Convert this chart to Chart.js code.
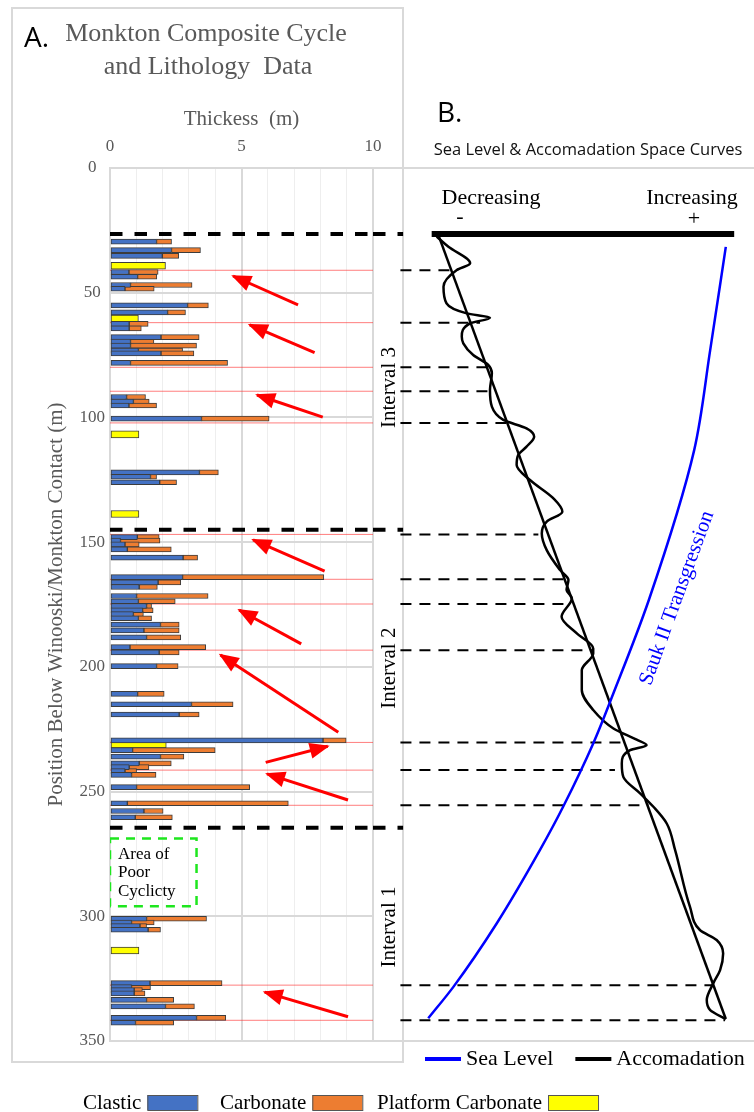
<!DOCTYPE html>
<html>
<head>
<meta charset="utf-8">
<script src="https://cdn.jsdelivr.net/npm/chart.js@4.4.1/dist/chart.umd.min.js"></script>
<style>
  html, body { margin: 0; padding: 0; background: #fff; }
  #wrap { position: relative; width: 754px; height: 1112px; }
  #wrap canvas { position: absolute; left: 0; top: 0; }
</style>
</head>
<body>
<div id="wrap">
  <canvas id="lith" width="754" height="1112"></canvas>
  <canvas id="curves" width="754" height="1112"></canvas>
</div>
<script>
// --- A. lithology beds (position below contact, m) and thickness (m)
const bedPos = [29.5, 32.9, 35.2, 41.7, 43.6, 46.9, 48.4, 55.1, 57.9, 62.5, 64.3, 67.8, 69.6, 71.2, 73.2, 74.3, 78.1, 91.8, 93.6, 95.2,
  100.5, 122.0, 123.8, 126.0, 148.0, 149.4, 150.9, 152.9, 156.2, 164.0, 166.1, 168.0, 171.6, 173.7, 175.6, 177.3, 178.8, 180.5, 183.1, 185.4,
  188.2, 192.1, 194.2, 199.7, 210.8, 215.0, 219.1, 229.5, 233.4, 236.0, 238.7, 240.2, 241.8, 243.3, 248.2, 254.7, 257.8, 260.3, 301.0, 302.5,
  303.9, 305.4, 326.8, 328.4, 329.6, 330.9, 333.5, 336.1, 340.7, 342.7];
const clastic = [1.77, 2.34, 1.99, 0.72, 1.05, 0.78, 0.57, 2.95, 2.19, 0.73, 0.73, 1.94, 0.78, 0.78, 1.08, 1.94, 0.78, 0.63, 0.89, 0.72,
  3.48, 3.40, 1.54, 1.89, 1.04, 0.40, 0.57, 0.66, 2.78, 2.76, 1.83, 1.11, 1.01, 1.08, 1.39, 1.24, 0.89, 1.08, 1.92, 1.29,
  1.39, 0.76, 1.87, 1.77, 1.05, 3.10, 2.63, 8.10, 0.86, 1.92, 1.11, 0.73, 0.57, 0.82, 1.01, 0.66, 1.29, 0.96, 1.39, 0.82,
  1.14, 1.45, 1.52, 0.82, 0.92, 0.92, 1.39, 2.11, 3.29, 0.97];
const carbonate = [0.57, 1.10, 0.62, 1.11, 0.73, 2.34, 1.11, 0.79, 0.68, 0.72, 0.46, 1.45, 0.89, 2.51, 1.68, 1.25, 3.69, 0.72, 0.60, 1.05,
  2.57, 0.72, 0.23, 0.64, 0.83, 1.50, 0.54, 1.67, 0.55, 5.37, 0.86, 0.69, 2.72, 1.40, 0.19, 0.40, 0.38, 0.50, 0.71, 1.34,
  1.30, 2.88, 0.76, 0.82, 1.01, 1.58, 0.76, 0.88, 3.14, 0.89, 1.22, 0.75, 0.44, 0.93, 4.30, 6.12, 0.73, 1.41, 2.28, 0.86,
  0.25, 0.47, 2.74, 0.72, 0.31, 0.41, 1.03, 1.10, 1.11, 1.45];
const platPos  = [39.2, 60.4, 106.8, 138.7, 231.1, 313.7];
const platform = [2.11, 1.08, 1.10, 1.10, 2.14, 1.10];

// cycle tops (red lines) and where the tie line meets the accomadation curve
const cyclePos = [41.0, 62.0, 79.9, 89.5, 102.2, 146.9, 164.9, 174.8, 193.3, 230.3, 241.4, 255.5, 327.6, 341.7];
const cycleAcc = [22.0, 28.1, 30.3, 30.7, 35.1, 43.4, 51.3, 50.8, 57.8, 66.6, 63.5, 72.3, 89.3, 92.4];

const intervalPos   = [26.5, 145, 264.5];
const intervalNames = ['Interval 3', 'Interval 2', 'Interval 1'];
const intervalMid   = [88, 200.5, 304.3];

// arrows [thickness, position]
const arrowTail = [[7.15, 54.9], [7.78, 74.0], [8.09, 99.9], [8.16, 161.6], [7.27, 190.8], [8.68, 226.2], [5.92, 238.3], [9.05, 253.4], [9.05, 340.3]];
const arrowHead = [[4.68, 43.3], [5.31, 62.9], [5.59, 91.0], [5.44, 149.1], [4.91, 177.2], [4.20, 195.2], [8.28, 231.8], [5.97, 242.9], [5.88, 330.4]];

const poorTop = 268.8, poorBottom = 296, poorWidth = 3.29;
const poorText = ['Area of', 'Poor', 'Cyclicty'];

// --- B. curves (relative units, - decreasing .. + increasing)
const seaLevelX = [92.6, 88.5, 84.3, 72.4, 63.1, 57.8, 49.9, 43.8, 32.5, 21.1, 14.5];
const seaLevelY = [31.6, 73.0, 113.1, 173.2, 210.6, 230.7, 256.1, 273.5, 302.8, 328.3, 340.9];

const accX = [16.7, 19.8, 25.5, 22.0, 18.5, 19.3, 24.6, 30.7, 25.5, 23.3, 23.7, 26.3, 30.3, 31.2, 30.7, 31.2, 34.2, 40.3, 42.3, 40.3,
  38.1, 37.7, 41.2, 47.3, 49.7, 45.6, 44.3, 45.6, 49.1, 51.3, 50.8, 52.2, 49.5, 53.5, 57.8, 57.8, 54.8, 54.8, 57.8, 63.1,
  69.2, 71.8, 67.5, 65.3, 65.7, 70.1, 73.6, 77.1, 79.3, 83.2, 85.8, 90.2, 91.9, 91.1, 89.3, 87.6, 88.5, 92.6];
const accY = [27.5, 31.6, 38.2, 40.9, 47.6, 54.3, 58.3, 60.0, 62.3, 67.6, 70.3, 75.0, 79.0, 82.3, 89.0, 95.7, 101.0, 104.4, 107.7, 111.7,
  115.1, 119.1, 125.1, 132.4, 137.8, 141.8, 146.5, 153.2, 161.2, 165.2, 169.2, 172.5, 179.9, 186.6, 192.6, 194.6, 201.3, 209.3, 217.3, 224.7,
  229.2, 231.4, 233.4, 238.7, 244.1, 250.7, 256.1, 262.8, 273.5, 296.2, 305.5, 309.5, 314.9, 321.6, 326.9, 333.6, 337.6, 341.2];
const trendX = [17.2, 92.6];
const trendY = [27.0, 341.2];
const topLineX = [15.4, 94.8];

const SERIF = '"Liberation Serif", "Times New Roman", serif';
const SANS  = '"Open Sans", "Noto Sans", sans-serif';
const GRAY  = '#595959';

function txt(ctx, s, x, y, font, color, align, base, rot) {
  ctx.save();
  ctx.translate(x, y);
  if (rot) ctx.rotate(rot);
  ctx.font = font;
  ctx.fillStyle = color;
  ctx.textAlign = align || 'left';
  ctx.textBaseline = base || 'alphabetic';
  ctx.fillText(s, 0, 0);
  ctx.restore();
}

const pts = (xs, ys) => xs.map((x, i) => ({x, y: ys[i]}));
const hline = (y, x0, x1) => [{x: x0, y}, {x: x1, y}];

// ---------- panel A
const lithDecor = {
  id: 'lithDecor',
  beforeDraw(chart) {
    const ctx = chart.ctx;
    ctx.save();
    ctx.strokeStyle = '#d9d9d9';
    ctx.lineWidth = 2;
    ctx.strokeRect(12, 8, 391, 1054);
    ctx.restore();
  },
  afterDatasetsDraw(chart) {
    const ctx = chart.ctx;
    chart.data.datasets.forEach((ds, i) => {
      if (!ds.arrow) return;
      const p = chart.getDatasetMeta(i).data;
      const a = p[0], b = p[1];
      const ang = Math.atan2(b.y - a.y, b.x - a.x);
      const L = 18, W = 8;
      const bx = b.x - L * Math.cos(ang), by = b.y - L * Math.sin(ang);
      ctx.save();
      ctx.fillStyle = ds.borderColor;
      ctx.beginPath();
      ctx.moveTo(b.x + 2 * Math.cos(ang), b.y + 2 * Math.sin(ang));
      ctx.lineTo(bx + W * Math.sin(ang), by - W * Math.cos(ang));
      ctx.lineTo(bx - W * Math.sin(ang), by + W * Math.cos(ang));
      ctx.closePath();
      ctx.fill();
      ctx.restore();
    });
  },
  afterDraw(chart) {
    const ctx = chart.ctx;
    const {x, y} = chart.scales;
    txt(ctx, 'A.', 24, 47, '28px ' + SANS, '#000');
    txt(ctx, 'Monkton Composite Cycle', 206, 41, '26px ' + SERIF, GRAY, 'center');
    txt(ctx, 'and Lithology  Data', 208, 74, '26px ' + SERIF, GRAY, 'center');

    const tx = x.getPixelForValue(0) + 8;
    const ty = y.getPixelForValue(poorTop);
    poorText.forEach((s, i) => txt(ctx, s, tx, ty + 16 + i * 18.5, '17px ' + SERIF, '#000', 'left', 'middle'));

    // legend: label then swatch
    const starts = [83, 220, 377];
    chart.data.datasets.filter(d => d.type === 'bar').forEach((d, i) => {
      ctx.font = '21px ' + SERIF;
      const w = ctx.measureText(d.label).width;
      txt(ctx, d.label, starts[i], 1109, '21px ' + SERIF, '#000');
      const bx = starts[i] + w + 6;
      ctx.save();
      ctx.fillStyle = d.backgroundColor;
      ctx.fillRect(bx, 1095, 50, 15);
      ctx.strokeStyle = '#555';
      ctx.lineWidth = 1;
      ctx.strokeRect(bx + 0.5, 1095.5, 50, 15);
      ctx.restore();
    });
  }
};

const lithSets = [
  {type: 'bar', label: 'Clastic', data: pts(clastic, bedPos), backgroundColor: '#4472c4'},
  {type: 'bar', label: 'Carbonate', data: pts(carbonate, bedPos), backgroundColor: '#ed7d31'},
  {type: 'bar', label: 'Platform Carbonate', data: pts(platform, platPos), backgroundColor: '#ffff00', barThickness: 7}
].map(d => Object.assign({borderColor: '#3c3c3c', borderWidth: 1, borderSkipped: false, barThickness: 5, order: 1}, d));

cyclePos.forEach((p, i) => lithSets.push({
  type: 'line', data: hline(p, 0, 10), borderColor: 'rgba(255,40,40,0.6)', borderWidth: 1,
  pointRadius: 0, stack: 'cyc' + i, order: 3
}));
intervalPos.forEach((p, i) => lithSets.push({
  type: 'line', data: hline(p, 0, 10), borderColor: '#000', borderWidth: 4, borderDash: [12.5, 12],
  pointRadius: 0, stack: 'int' + i, order: 3
}));
lithSets.push({
  type: 'line', data: [{x: 0, y: poorTop}, {x: poorWidth, y: poorTop}, {x: poorWidth, y: poorBottom}, {x: 0, y: poorBottom}, {x: 0, y: poorTop}],
  borderColor: '#1ee61e', borderWidth: 2.5, borderDash: [9, 7], pointRadius: 0, stack: 'poor', order: 2
});
arrowTail.forEach((t, i) => lithSets.push({
  type: 'line', arrow: true, data: [{x: t[0], y: t[1]}, {x: arrowHead[i][0], y: arrowHead[i][1]}],
  borderColor: '#ff0000', borderWidth: 3, pointRadius: 0, stack: 'arr' + i, order: 0
}));

new Chart(document.getElementById('lith'), {
  data: {datasets: lithSets},
  options: {
    responsive: false,
    animation: false,
    indexAxis: 'y',
    layout: {padding: {left: 0, right: 381, top: 0, bottom: 71}},
    plugins: {legend: {display: false}, tooltip: {enabled: false}},
    scales: {
      x: {
        type: 'linear', position: 'top', min: 0, max: 10, stacked: true, offset: false,
        ticks: {stepSize: 1, autoSkip: false, maxRotation: 0, padding: 11, color: GRAY,
          font: {family: SERIF, size: 17}, callback: v => (v % 5 === 0 ? v : '')},
        grid: {drawTicks: false, offset: false,
          color: c => (c.tick && c.tick.value % 5 === 0 ? '#d9d9d9' : '#eeeeee'),
          lineWidth: c => (c.tick && c.tick.value % 5 === 0 ? 2 : 1)},
        border: {display: true, color: '#d9d9d9', width: 2},
        title: {display: true, text: 'Thickess  (m)', color: GRAY, font: {family: SERIF, size: 21}, padding: {top: 107, bottom: 0}},
        afterFit: s => { s.height = 168; }
      },
      y: {
        type: 'linear', reverse: true, min: 0, max: 350, stacked: true, offset: false,
        ticks: {stepSize: 50, padding: 5, crossAlign: 'center', color: GRAY, font: {family: SERIF, size: 17}},
        grid: {drawTicks: false, offset: false, color: '#d9d9d9', lineWidth: 2},
        border: {display: true, color: '#d9d9d9', width: 2},
        title: {display: true, text: 'Position Below Winooski/Monkton Contact (m)', color: GRAY,
          font: {family: SERIF, size: 21}, padding: {top: 44, bottom: 0}},
        afterFit: s => { s.width = 110; }
      }
    }
  },
  plugins: [lithDecor]
});

// ---------- panel B
const curveDecor = {
  id: 'curveDecor',
  beforeDraw(chart) {
    const ctx = chart.ctx;
    const a = chart.chartArea;
    ctx.save();
    ctx.strokeStyle = '#d9d9d9';
    ctx.lineWidth = 2;
    ctx.beginPath();
    ctx.moveTo(a.left, a.top); ctx.lineTo(a.right, a.top);
    ctx.moveTo(a.left, a.bottom); ctx.lineTo(a.right, a.bottom);
    ctx.stroke();
    ctx.restore();
  },
  afterDraw(chart) {
    const ctx = chart.ctx;
    const y = chart.scales.y;
    txt(ctx, 'B.', 437, 122, '28px ' + SANS, '#000');
    txt(ctx, 'Sea Level & Accomadation Space Curves', 588, 155, '16.5px ' + SANS, '#111', 'center');
    txt(ctx, 'Decreasing', 491, 204, '22px ' + SERIF, '#000', 'center');
    txt(ctx, '-', 460, 217, '22px ' + SERIF, '#000', 'center', 'middle');
    txt(ctx, 'Increasing', 692, 204, '22px ' + SERIF, '#000', 'center');
    txt(ctx, '+', 694, 219, '22px ' + SERIF, '#000', 'center', 'middle');
    txt(ctx, 'Sauk II Transgression', 677, 598, '21px ' + SERIF, '#0000ff', 'center', 'middle', -70 * Math.PI / 180);
    intervalNames.forEach((s, i) =>
      txt(ctx, s, 389, y.getPixelForValue(intervalMid[i]), '21px ' + SERIF, '#000', 'center', 'middle', -Math.PI / 2));

    // legend: line then label
    let lx = 425;
    chart.data.datasets.filter(d => d.inLegend).forEach(d => {
      ctx.save();
      ctx.strokeStyle = d.borderColor;
      ctx.lineWidth = 4;
      ctx.beginPath();
      ctx.moveTo(lx, 1059); ctx.lineTo(lx + 36, 1059);
      ctx.stroke();
      ctx.restore();
      ctx.font = '22px ' + SERIF;
      const w = ctx.measureText(d.label).width;
      txt(ctx, d.label, lx + 41, 1065, '22px ' + SERIF, '#000');
      lx += 41 + w + 22;
    });
  }
};

const curveSets = [
  {label: 'Sea Level', inLegend: true, indexAxis: 'y', cubicInterpolationMode: 'monotone',
    data: pts(seaLevelX, seaLevelY), borderColor: '#0000ff', borderWidth: 2.5},
  {label: 'Accomadation', inLegend: true, indexAxis: 'y', cubicInterpolationMode: 'monotone',
    data: pts(accX, accY), borderColor: '#000', borderWidth: 2.5},
  {label: 'trend', data: pts(trendX, trendY), borderColor: '#000', borderWidth: 2.5},
  {label: 'datum', data: hline(intervalPos[0], topLineX[0], topLineX[1]), borderColor: '#000', borderWidth: 6}
];
intervalPos.forEach(p => curveSets.push({data: hline(p, 0, 7.9), borderColor: '#000', borderWidth: 4, borderDash: [12.5, 12]}));
cyclePos.forEach((p, i) => curveSets.push({data: hline(p, 7.2, cycleAcc[i]), borderColor: '#000', borderWidth: 2, borderDash: [11, 8]}));

new Chart(document.getElementById('curves'), {
  type: 'line',
  data: {datasets: curveSets},
  options: {
    responsive: false,
    animation: false,
    layout: {padding: {left: 373, right: 0, top: 168, bottom: 71}},
    elements: {point: {radius: 0}},
    plugins: {legend: {display: false}, tooltip: {enabled: false}},
    scales: {
      x: {type: 'linear', min: 0, max: 100, display: false},
      y: {type: 'linear', min: 0, max: 350, reverse: true, display: false}
    }
  },
  plugins: [curveDecor]
});
</script>
</body>
</html>
